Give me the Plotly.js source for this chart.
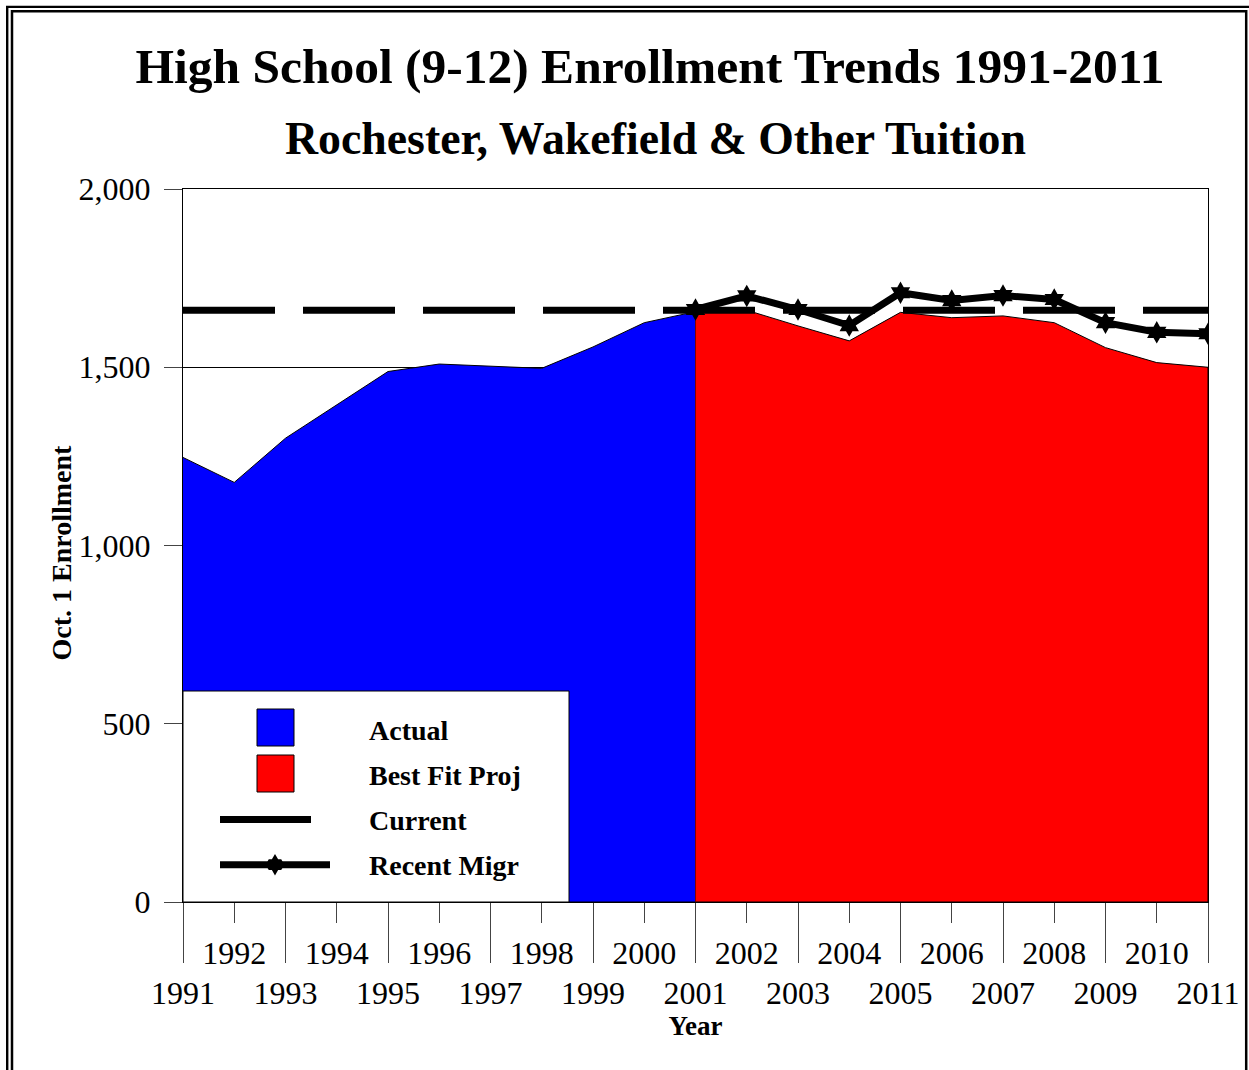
<!DOCTYPE html>
<html><head><meta charset="utf-8">
<script src="https://cdn.plot.ly/plotly-3.0.1.min.js"></script>
<style>html,body{margin:0;padding:0;background:#fff;} #chart{width:1249px;height:1070px;}</style>
</head><body><div id="chart"></div>
<script>
// ---- data ----
const actualYears  = [1991,1992,1993,1994,1995,1996,1997,1998,1999,2000,2001];
const actualValues = [1247,1177,1301,1395,1488,1509,1504,1497,1557,1625,1656];
const projYears    = [2001,2002,2003,2004,2005,2006,2007,2008,2009,2010,2011];
const projValues   = [1656,1660,1616,1574,1654,1639,1644,1625,1555,1513,1500];
const migrYears    = [2001,2002,2003,2004,2005,2006,2007,2008,2009,2010,2011];
const migrValues   = [1662,1700,1662,1617,1709,1687,1701,1690,1625,1598,1594];
const currentYears = [1991,2011];
const currentValues= [1660,1660];
const oddTickYears = [1991,1993,1995,1997,1999,2001,2003,2005,2007,2009,2011];
const evenTickYears= [1992,1994,1996,1998,2000,2002,2004,2006,2008,2010];
const yTickValues  = [0,500,1000,1500,2000];
const seriesNames  = ['Actual','Best Fit Proj','Current','Recent Migr'];

// ---- geometry helpers (pixel -> paper) ----
const W = 1249, H = 1070;
const M = {l:183, r:41, t:189, b:168};
const PW = W - M.l - M.r, PH = H - M.t - M.b;
const px = v => (v - M.l) / PW;
const py = v => (H - M.b - v) / PH;
const SERIF = 'Liberation Serif, Times New Roman, serif';

function closedArea(xs, ys){
  return {x: xs.concat([xs[xs.length-1], xs[0]]), y: ys.concat([0,0])};
}
const aArea = closedArea(actualYears, actualValues);
const pArea = closedArea(projYears, projValues);

const traces = [
  {x:aArea.x, y:aArea.y, type:'scatter', mode:'lines', fill:'toself',
   fillcolor:'#0000FF', line:{color:'#000', width:1}, name:seriesNames[0], showlegend:false, hoverinfo:'skip'},
  {x:pArea.x, y:pArea.y, type:'scatter', mode:'lines', fill:'toself',
   fillcolor:'#FF0000', line:{color:'#000', width:1}, name:seriesNames[1], showlegend:false, hoverinfo:'skip'},
  {x:currentYears, y:currentValues, type:'scatter', mode:'lines',
   line:{color:'#000', width:7, dash:'92px,28px'}, name:seriesNames[2], showlegend:false},
  {x:migrYears, y:migrValues, type:'scatter', mode:'lines+markers',
   line:{color:'#000', width:7}, marker:{symbol:'hexagram', size:17, color:'#000'},
   name:seriesNames[3], showlegend:false}
];

// six-point star path for the legend glyph (pixel centre -> paper path)
function hexPath(cx, cy, r){
  const y = r*0.66, x1 = r*0.38, x2 = r*0.76;
  const pts = [
    [-x2-x1, 0], [-x2, -y], [-x1, -y], [0, -2*y], [x1, -y], [x2, -y],
    [x2+x1, 0], [x2, y], [x1, y], [0, 2*y], [-x1, y], [-x2, y]
  ];
  return 'M' + pts.map(p => px(cx+p[0]) + ',' + py(cy+p[1])).join('L') + 'Z';
}

const shapes = [
  // outer double frame
  {type:'rect', xref:'paper', yref:'paper', x0:px(7.2), x1:px(1262), y0:py(6.9), y1:py(1085), line:{color:'#000', width:2.4}, layer:'above'},
  {type:'rect', xref:'paper', yref:'paper', x0:px(12), x1:px(1246.2), y0:py(11.2), y1:py(1085), line:{color:'#000', width:2.5}, layer:'above'},
  // legend box
  {type:'rect', xref:'paper', yref:'paper', x0:px(183), x1:px(569), y0:py(902), y1:py(691), fillcolor:'#fff', line:{color:'#000', width:1}, layer:'above'},
  {type:'rect', xref:'paper', yref:'paper', x0:px(257), x1:px(294), y0:py(746), y1:py(709), fillcolor:'#0000FF', line:{color:'#000', width:1}, layer:'above'},
  {type:'rect', xref:'paper', yref:'paper', x0:px(257), x1:px(294), y0:py(792), y1:py(755), fillcolor:'#FF0000', line:{color:'#000', width:1}, layer:'above'},
  {type:'line', xref:'paper', yref:'paper', x0:px(220), x1:px(311), y0:py(819.5), y1:py(819.5), line:{color:'#000', width:7}, layer:'above'},
  {type:'line', xref:'paper', yref:'paper', x0:px(220), x1:px(330), y0:py(864.7), y1:py(864.7), line:{color:'#000', width:7}, layer:'above'},
  {type:'path', xref:'paper', yref:'paper', path:hexPath(275, 864.7, 8.2), fillcolor:'#000', line:{color:'#000', width:0}, layer:'above'}
];

const legendRows = [730, 775, 820, 865];
const annotations = seriesNames.map((n,i)=>({
  text:n, xref:'paper', yref:'paper', x:px(367), y:py(legendRows[i]), xanchor:'left', yanchor:'middle',
  showarrow:false, font:{family:SERIF, size:28, weight:'bold', color:'#000'}
}));
annotations.push({
  text:'Rochester, Wakefield &amp; Other Tuition', xref:'paper', yref:'paper', x:px(655), y:py(138.5),
  xanchor:'center', yanchor:'middle', showarrow:false,
  font:{family:SERIF, size:45.8, weight:'bold', color:'#000'}
});
annotations.push({
  text:'Oct. 1 Enrollment', xref:'paper', yref:'paper', x:px(61), y:py(552.5), textangle:-90,
  xanchor:'center', yanchor:'middle', showarrow:false,
  font:{family:SERIF, size:28, weight:'bold', color:'#000'}
});

const tickFont = {family:SERIF, size:32, color:'#000'};
const layout = {
  width:W, height:H, margin:M, paper_bgcolor:'#fff', plot_bgcolor:'#fff', showlegend:false,
  title:{text:'High School (9-12) Enrollment Trends 1991-2011', x:650/W, xanchor:'center', xref:'container',
         y:1-66/H, yanchor:'middle', yref:'container',
         font:{family:SERIF, size:49.5, weight:'bold', color:'#000'}},
  xaxis:{range:[1991,2011], tickmode:'array', tickvals:oddTickYears, ticktext:oddTickYears.map(String),
         ticks:'outside', ticklen:60, tickwidth:1, tickcolor:'#444', showline:true, linecolor:'#000', linewidth:1,
         mirror:true, showgrid:false, zeroline:false, tickfont:tickFont, ticklabelstandoff:3,
         title:{text:'Year', font:{family:SERIF, size:27, weight:'bold', color:'#000'}, standoff:2}},
  xaxis2:{range:[1991,2011], overlaying:'x', anchor:'y', side:'bottom', tickmode:'array', tickvals:evenTickYears,
         ticktext:evenTickYears.map(String), ticks:'outside', ticklen:20, tickwidth:1, tickcolor:'#444',
         showline:false, showgrid:false, zeroline:false, tickfont:tickFont, ticklabelstandoff:3},
  yaxis:{range:[0,2000], tickmode:'array', tickvals:yTickValues, tickformat:',d', ticks:'outside', ticklen:18,
         tickwidth:1, tickcolor:'#444', showline:true, linecolor:'#000', linewidth:1, mirror:true,
         showgrid:true, gridcolor:'#000', gridwidth:1, zeroline:false, tickfont:tickFont, ticklabelstandoff:7},
  shapes:shapes, annotations:annotations
};
// invisible trace on xaxis2 so its ticks render
traces.push({x:[1991], y:[0], xaxis:'x2', type:'scatter', mode:'markers', marker:{opacity:0}, showlegend:false, hoverinfo:'skip'});

Plotly.newPlot('chart', traces, layout, {displayModeBar:false, staticPlot:true});
</script>
</body></html>
